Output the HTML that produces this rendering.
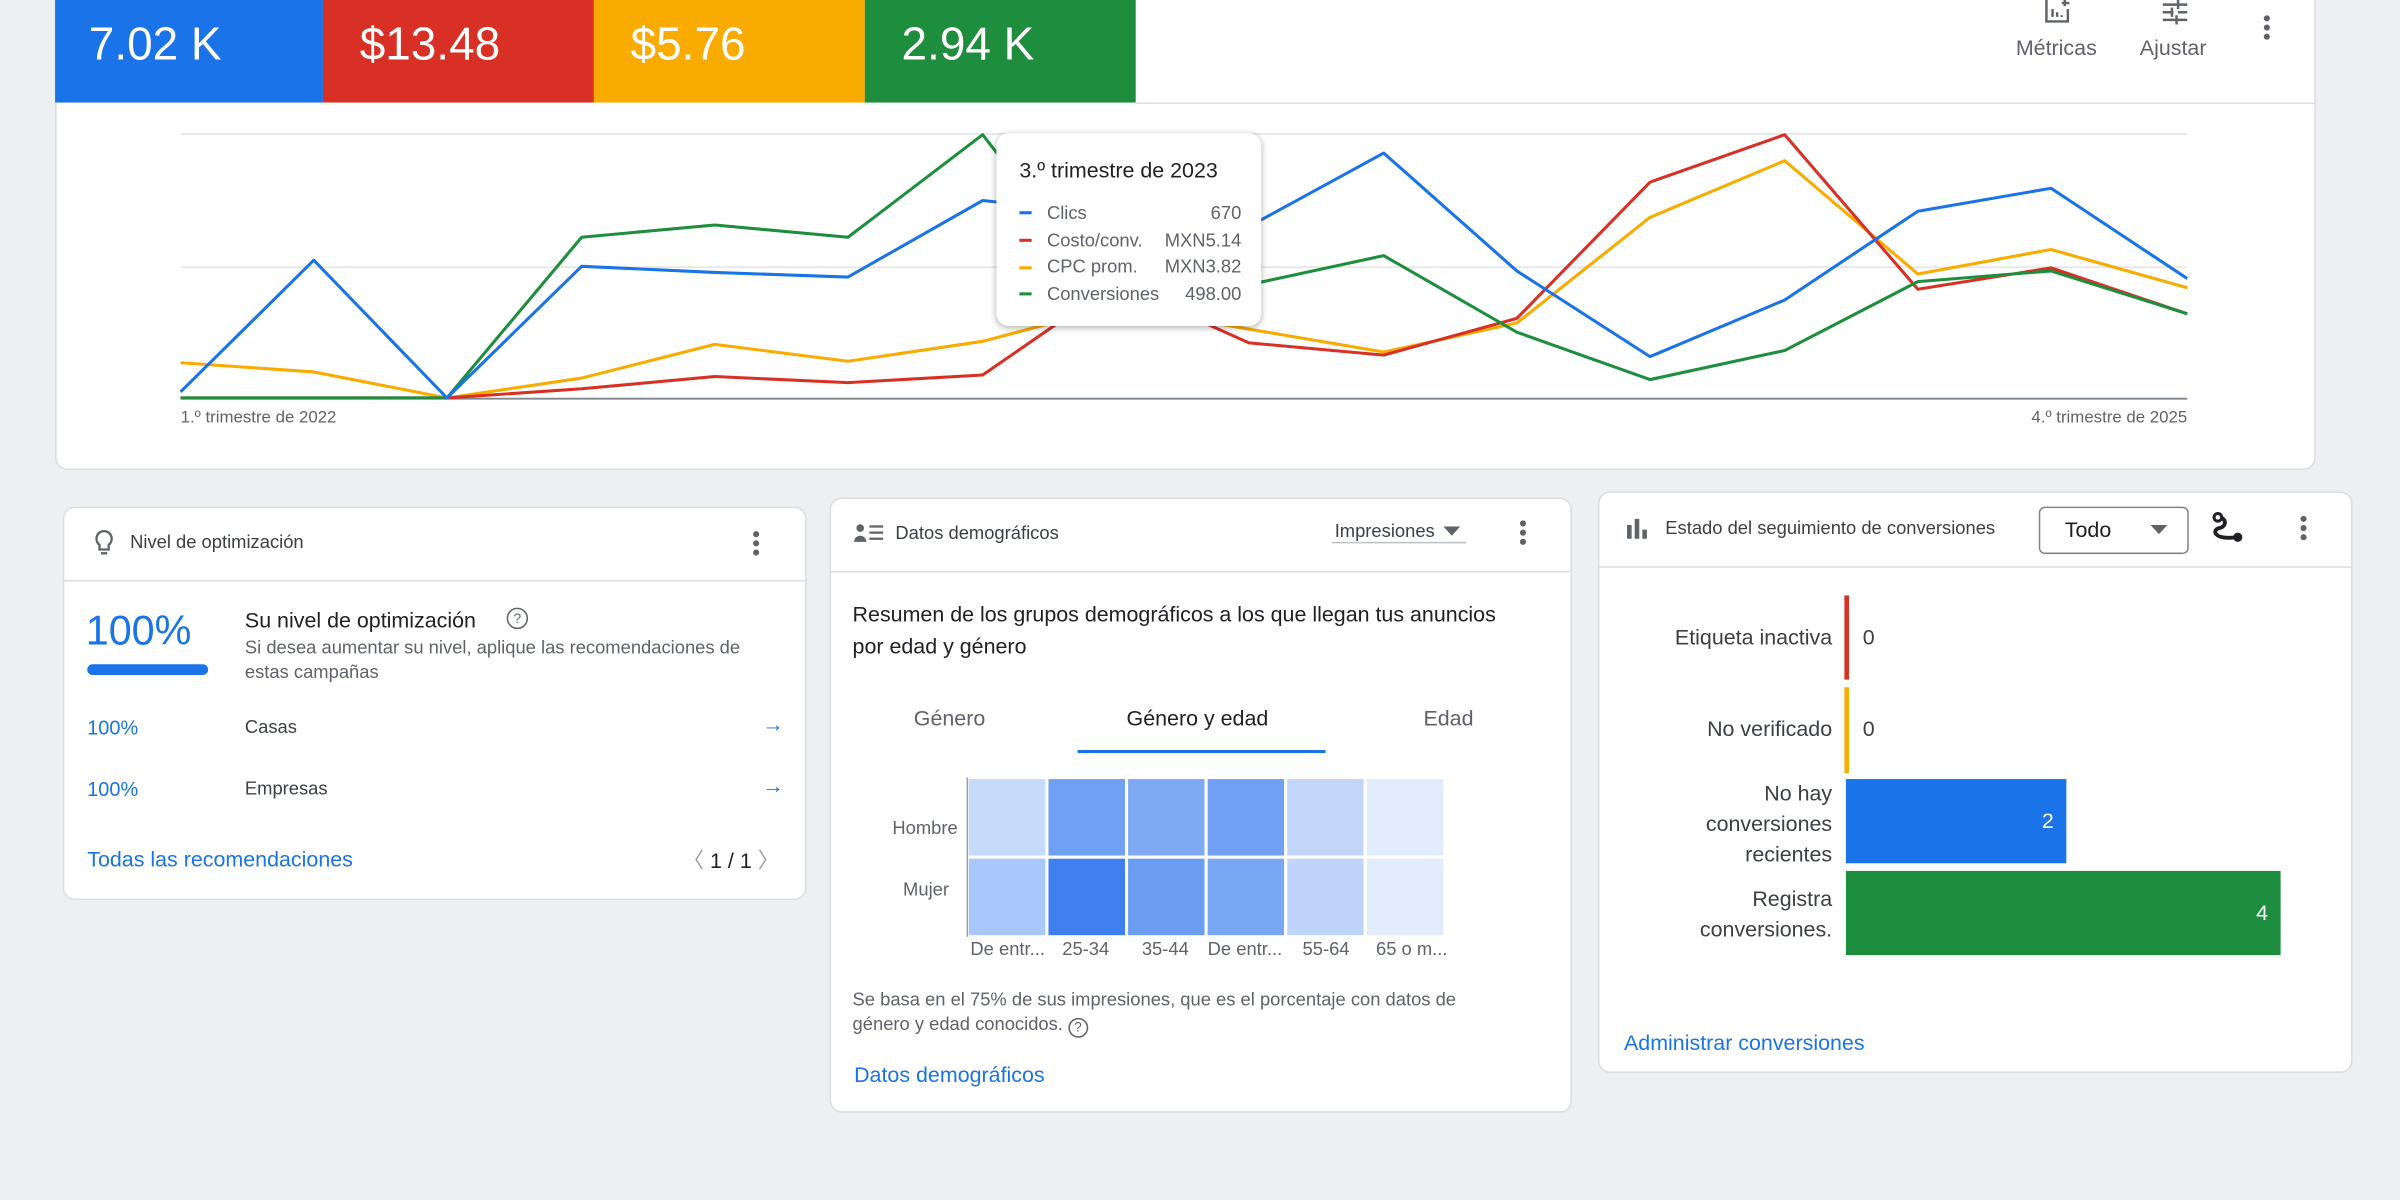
<!DOCTYPE html>
<html><head><meta charset="utf-8">
<style>
html,body{margin:0;padding:0;}
body{width:2400px;height:1200px;overflow:hidden;background:#eeeff1;font-family:"Liberation Sans",sans-serif;}
#w{position:absolute;left:0;top:0;width:1568px;height:784px;transform:scale(1.530612);transform-origin:0 0;}
.a{position:absolute;white-space:nowrap;}
.card{position:absolute;background:#fff;border:1px solid #dadce0;border-radius:8px;box-sizing:border-box;}
.dots{position:absolute;width:4px;}
.dots i{display:block;width:4px;height:4px;border-radius:2px;background:#5f6368;margin-bottom:2px;}
.blue{color:#1a73e8;}
.g{color:#5f6368;}
</style></head><body><div id="w">

<!-- top card -->
<div class="card" style="left:36px;top:-10px;width:1477px;height:317px;border-radius:0 0 8px 8px;"></div>
<div class="a" style="left:36px;top:0;width:175px;height:67px;background:#1a73e8"></div>
<div class="a" style="left:211px;top:0;width:177px;height:67px;background:#d93025"></div>
<div class="a" style="left:388px;top:0;width:177px;height:67px;background:#f9ab00"></div>
<div class="a" style="left:565px;top:0;width:177px;height:67px;background:#1e8e3e"></div>
<div class="a" style="left:58px;top:13px;font-size:30px;color:#fff">7.02 K</div>
<div class="a" style="left:235px;top:13px;font-size:30px;color:#fff">$13.48</div>
<div class="a" style="left:412px;top:13px;font-size:30px;color:#fff">$5.76</div>
<div class="a" style="left:589px;top:13px;font-size:30px;color:#fff">2.94 K</div>
<div class="a" style="left:742px;top:67px;width:770px;height:1px;background:#dadce0"></div>
<svg class="a" style="left:1335px;top:0" width="20" height="16"><path d="M2 0V14H16V6" fill="none" stroke="#5f6368" stroke-width="1.6"/><path d="M6 6v5M9 8v3M12 10v1" stroke="#5f6368" stroke-width="1.6"/><path d="M14 0v4M12 2h5" stroke="#5f6368" stroke-width="1.6"/></svg>
<svg class="a" style="left:1411px;top:0" width="20" height="16"><path d="M2 3h16M2 8h7M12 8h6M2 13h16" stroke="#5f6368" stroke-width="1.6"/><path d="M12 0v6M8 5v6M11 10v6" stroke="#5f6368" stroke-width="1.6"/></svg>
<div class="a g" style="left:1317px;top:23px;font-size:14px">Métricas</div>
<div class="a g" style="left:1398px;top:23px;font-size:14px">Ajustar</div>
<div class="dots" style="left:1479px;top:10px"><i></i><i></i><i></i></div>

<svg class="a" style="left:0;top:0" width="1568" height="310">
<line x1="118" y1="87.5" x2="1429" y2="87.5" stroke="#e3e3e3" stroke-width="1"/>
<line x1="118" y1="174.5" x2="1429" y2="174.5" stroke="#e3e3e3" stroke-width="1"/>
<line x1="118" y1="260.5" x2="1429" y2="260.5" stroke="#80868b" stroke-width="1.2"/>
<g fill="none" stroke-width="2" stroke-linejoin="round">
<polyline stroke="#f9ab00" points="118,237 205,243 292,260 380,247 467,225 554,236 642,223 729,200 816,215 904,230 991,211 1078,142 1166,105 1253,179 1340,163 1429,188"/>
<polyline stroke="#d93025" points="118,260 205,260 292,260 380,254 467,246 554,250 642,245 729,185 816,224 904,232 991,208 1078,119 1166,88 1253,189 1340,175 1429,205"/>
<polyline stroke="#1e8e3e" points="118,260 205,260 292,260 380,155 467,147 554,155 642,88 729,200 816,186 904,167 991,217 1078,248 1166,229 1253,184 1340,177 1429,205"/>
<polyline stroke="#1a73e8" points="118,256 205,170 292,260 380,174 467,178 554,181 642,131 729,140 816,148 904,100 991,177 1078,233 1166,196 1253,138 1340,123 1429,182"/>
</g>
<text x="118" y="276" font-size="11" fill="#5f6368" font-family="Liberation Sans">1.º trimestre de 2022</text>
<text x="1429" y="276" font-size="11" fill="#5f6368" text-anchor="end" font-family="Liberation Sans">4.º trimestre de 2025</text>
</svg>

<!-- tooltip -->
<div class="a" style="left:651px;top:87px;width:173px;height:126px;background:#fff;border-radius:8px;box-shadow:0 1px 4px rgba(0,0,0,.3)"></div>
<div class="a" style="left:666px;top:103px;font-size:14px;color:#202124">3.º trimestre de 2023</div>
<div class="a" style="left:666px;top:138px;width:8px;height:2px;background:#1a73e8"></div>
<div class="a" style="left:666px;top:156px;width:8px;height:2px;background:#d93025"></div>
<div class="a" style="left:666px;top:174px;width:8px;height:2px;background:#f9ab00"></div>
<div class="a" style="left:666px;top:191px;width:8px;height:2px;background:#1e8e3e"></div>
<div class="a g" style="left:684px;top:131px;font-size:12px;line-height:17.7px">Clics<br>Costo/conv.<br>CPC prom.<br>Conversiones</div>
<div class="a g" style="left:700px;top:131px;width:111px;text-align:right;font-size:12px;line-height:17.7px">670<br>MXN5.14<br>MXN3.82<br>498.00</div>

<!-- card 1 -->
<div class="card" style="left:41px;top:331px;width:486px;height:257px"></div>
<div class="a" style="left:41px;top:379px;width:486px;height:1px;background:#dadce0"></div>
<svg class="a" style="left:62px;top:346px" width="12" height="17"><path d="M6 1a5 5 0 0 0-3 9v3h6v-3a5 5 0 0 0-3-9z" fill="none" stroke="#5f6368" stroke-width="1.5"/><path d="M4 15.5h4" stroke="#5f6368" stroke-width="1.5"/></svg>
<div class="a" style="left:85px;top:347px;font-size:12px;color:#3c4043">Nivel de optimización</div>
<div class="dots" style="left:492px;top:347px"><i></i><i></i><i></i></div>
<div class="a blue" style="left:56px;top:397px;font-size:27px">100%</div>
<div class="a" style="left:57px;top:434px;width:79px;height:7px;border-radius:4px;background:#1a73e8"></div>
<div class="a" style="left:160px;top:397px;font-size:14px;color:#202124">Su nivel de optimización</div>
<div class="a g" style="left:331px;top:397px;width:12px;height:12px;border:1.3px solid #5f6368;border-radius:50%;font-size:9px;text-align:center;line-height:12px">?</div>
<div class="a g" style="left:160px;top:415px;font-size:12px;line-height:16px">Si desea aumentar su nivel, aplique las recomendaciones de<br>estas campañas</div>
<div class="a blue" style="left:57px;top:468px;font-size:13px">100%</div>
<div class="a" style="left:160px;top:468px;font-size:12px;color:#3c4043">Casas</div>
<div class="a blue" style="left:498px;top:465px;font-size:14px">→</div>
<div class="a blue" style="left:57px;top:508px;font-size:13px">100%</div>
<div class="a" style="left:160px;top:508px;font-size:12px;color:#3c4043">Empresas</div>
<div class="a blue" style="left:498px;top:505px;font-size:14px">→</div>
<div class="a blue" style="left:57px;top:553px;font-size:14px">Todas las recomendaciones</div>
<div class="a" style="left:446px;top:552px;font-size:14px;color:#202124"><span style="color:#9aa0a6">〈</span> 1 / 1 <span style="color:#9aa0a6">〉</span></div>

<!-- card 2 -->
<div class="card" style="left:542px;top:325px;width:485px;height:402px"></div>
<div class="a" style="left:542px;top:373px;width:485px;height:1px;background:#dadce0"></div>
<svg class="a" style="left:558px;top:341px" width="20" height="15"><circle cx="4" cy="4" r="2.5" fill="#5f6368"/><path d="M0 13a4 4 0 0 1 8 0z" fill="#5f6368"/><path d="M10 3h9M10 7h9M10 11h9" stroke="#5f6368" stroke-width="1.5"/></svg>
<div class="a" style="left:585px;top:341px;font-size:12px;color:#3c4043">Datos demográficos</div>
<div class="a" style="left:872px;top:340px;font-size:12px;color:#3c4043">Impresiones</div>
<svg class="a" style="left:943px;top:344px" width="12" height="6"><path d="M0 0h11L5.5 6z" fill="#5f6368"/></svg>
<div class="a" style="left:870px;top:354px;width:88px;height:1px;background:#bdc1c6"></div>
<div class="dots" style="left:993px;top:340px"><i></i><i></i><i></i></div>
<div class="a" style="left:557px;top:391px;font-size:14px;line-height:21px;color:#202124">Resumen de los grupos demográficos a los que llegan tus anuncios<br>por edad y género</div>
<div class="a" style="left:597px;top:461px;font-size:14px;color:#5f6368">Género</div>
<div class="a" style="left:736px;top:461px;font-size:14px;color:#202124">Género y edad</div>
<div class="a" style="left:930px;top:461px;font-size:14px;color:#5f6368">Edad</div>
<div class="a" style="left:704px;top:490px;width:162px;height:2px;background:#1a73e8"></div>
<svg class="a" style="left:630px;top:508px" width="320" height="106">
<g stroke="#fff" stroke-width="2">
<rect x="2" y="0" width="52" height="52" fill="#c6dafc"/><rect x="54" y="0" width="52" height="52" fill="#6fa0f3"/><rect x="106" y="0" width="52" height="52" fill="#7eaaf4"/><rect x="158" y="0" width="52" height="52" fill="#6fa0f3"/><rect x="210" y="0" width="52" height="52" fill="#c2d6fa"/><rect x="262" y="0" width="52" height="52" fill="#e3ecfc"/>
<rect x="2" y="52" width="52" height="52" fill="#a8c7fa"/><rect x="54" y="52" width="52" height="52" fill="#3f80ee"/><rect x="106" y="52" width="52" height="52" fill="#6b9ef2"/><rect x="158" y="52" width="52" height="52" fill="#7aa7f4"/><rect x="210" y="52" width="52" height="52" fill="#c0d4f9"/><rect x="262" y="52" width="52" height="52" fill="#e3ecfc"/>
</g>
<line x1="2" y1="0" x2="2" y2="104" stroke="#9aa0a6" stroke-width="1"/>
</svg>
<div class="a g" style="left:583px;top:534px;font-size:12px">Hombre</div>
<div class="a g" style="left:590px;top:574px;font-size:12px">Mujer</div>
<div class="a g" style="left:634px;top:613px;font-size:12px;width:320px"><span style="position:absolute;left:0">De entr...</span><span style="position:absolute;left:60px">25-34</span><span style="position:absolute;left:112px">35-44</span><span style="position:absolute;left:155px">De entr...</span><span style="position:absolute;left:217px">55-64</span><span style="position:absolute;left:265px">65 o m...</span></div>
<div class="a g" style="left:557px;top:645px;font-size:12px;line-height:16px">Se basa en el 75% de sus impresiones, que es el porcentaje con datos de<br>género y edad conocidos. <span style="display:inline-block;width:11px;height:11px;border:1.2px solid #5f6368;border-radius:50%;font-size:9px;text-align:center;line-height:11px;vertical-align:-1px">?</span></div>
<div class="a blue" style="left:558px;top:694px;font-size:14px">Datos demográficos</div>

<!-- card 3 -->
<div class="card" style="left:1044px;top:321px;width:493px;height:380px"></div>
<div class="a" style="left:1044px;top:370px;width:493px;height:1px;background:#dadce0"></div>
<svg class="a" style="left:1062px;top:337px" width="16" height="16"><path d="M1 6h3v9H1zM6 2h3v13H6zM11 9h3v6h-3z" fill="#5f6368"/></svg>
<div class="a" style="left:1088px;top:338px;font-size:12px;color:#3c4043">Estado del seguimiento de conversiones</div>
<div class="a" style="left:1332px;top:331px;width:98px;height:31px;border:1px solid #80868b;border-radius:4px;box-sizing:border-box"></div>
<div class="a" style="left:1349px;top:338px;font-size:14px;color:#202124">Todo</div>
<svg class="a" style="left:1405px;top:343px" width="12" height="6"><path d="M0 0h11L5.5 6z" fill="#5f6368"/></svg>
<svg class="a" style="left:1445px;top:334px" width="22" height="24"><path d="M4 4c6 0 6 6 1 7s-4 8 11 6" fill="none" stroke="#202124" stroke-width="2.5"/><circle cx="4" cy="4" r="2.5" fill="#fff" stroke="#202124" stroke-width="2"/><circle cx="17" cy="17" r="3" fill="#202124"/></svg>
<div class="dots" style="left:1503px;top:337px"><i></i><i></i><i></i></div>
<div class="a" style="left:1205px;top:389px;width:3px;height:55px;background:#d93025"></div>
<div class="a" style="left:1205px;top:449px;width:3px;height:56px;background:#f9ab00"></div>
<div class="a" style="left:1206px;top:509px;width:144px;height:55px;background:#1a73e8"></div>
<div class="a" style="left:1206px;top:569px;width:284px;height:55px;background:#1e8e3e"></div>
<div class="a" style="left:1000px;width:197px;text-align:right;top:408px;font-size:14px;color:#3c4043">Etiqueta inactiva</div>
<div class="a" style="left:1000px;width:197px;text-align:right;top:468px;font-size:14px;color:#3c4043">No verificado</div>
<div class="a" style="left:1000px;width:197px;text-align:right;top:508px;font-size:14px;line-height:20px;color:#3c4043">No hay<br>conversiones<br>recientes</div>
<div class="a" style="left:1000px;width:197px;text-align:right;top:577px;font-size:14px;line-height:20px;color:#3c4043">Registra<br>conversiones.</div>
<div class="a" style="left:1217px;top:408px;font-size:14px;color:#3c4043">0</div>
<div class="a" style="left:1217px;top:468px;font-size:14px;color:#3c4043">0</div>
<div class="a" style="left:1334px;top:528px;font-size:14px;color:#fff">2</div>
<div class="a" style="left:1474px;top:588px;font-size:14px;color:#fff">4</div>
<div class="a blue" style="left:1061px;top:673px;font-size:14px">Administrar conversiones</div>

</div></body></html>
